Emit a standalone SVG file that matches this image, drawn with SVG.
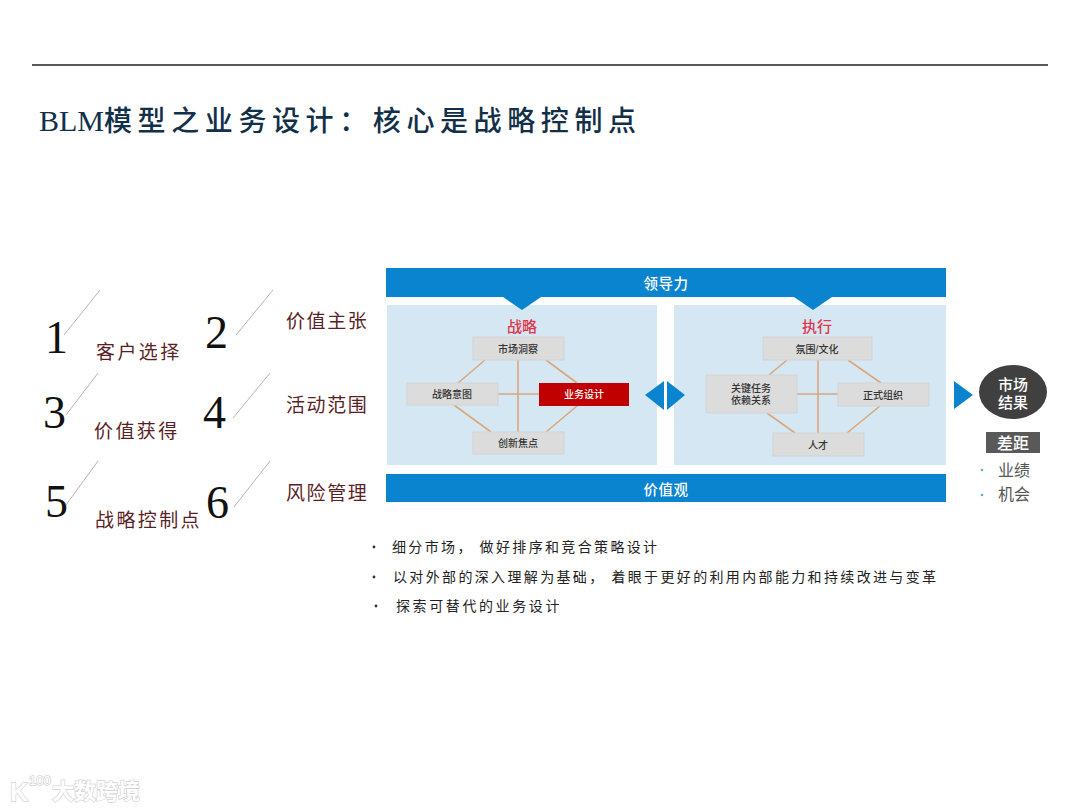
<svg xmlns="http://www.w3.org/2000/svg" width="1080" height="810" viewBox="0 0 1080 810">
<style>
text{font-family:"Liberation Serif","Noto Sans CJK SC",serif}
.s{font-family:"Liberation Sans","Noto Sans CJK SC",sans-serif}
.num{font-size:46px;fill:#111}
.lab{font-size:19px;fill:#5b1f26;letter-spacing:2.4px;dominant-baseline:central}
.lab2{letter-spacing:1.6px}
.slash{stroke:#b5b5b5;stroke-width:1;fill:none}
.ban{fill:#0a84cf}
.panel{fill:#d5e7f2}
.box{fill:#dcdcdc;stroke:#cfd3d6;stroke-width:1}
.lnk{stroke:#dba77c;stroke-width:1.6;fill:none}
.bt{font-size:14.5px;font-weight:500;fill:#fff;text-anchor:middle;dominant-baseline:central;letter-spacing:.5px}
.nt{font-size:10px;font-weight:500;fill:#333;text-anchor:middle;dominant-baseline:central}
.hd{font-size:15px;fill:#e0364c;text-anchor:middle;dominant-baseline:central;font-weight:500}
.bul{font-size:14px;fill:#222;letter-spacing:2.35px;dominant-baseline:central}
.r{font-size:16px;fill:#555;text-anchor:middle;dominant-baseline:central}
.w{fill:#fff;text-anchor:middle;dominant-baseline:central;font-weight:500}
</style>
<rect width="1080" height="810" fill="#fff"/>
<line x1="32" y1="65" x2="1048" y2="65" stroke="#222" stroke-width="1.3"/>
<text id="title" x="39" y="131" font-size="30" fill="#123049" font-weight="500"><tspan>BLM</tspan><tspan font-size="28" letter-spacing="5.6">模型之业务设计：核心是战略控制点</tspan></text>

<g id="items">
<g id="item1"><text class="num" x="45" y="353">1</text><line class="slash" x1="64" y1="335" x2="100" y2="290"/><text class="lab" x="96" y="352">客户选择</text></g>
<g id="item2"><text class="num" x="205" y="348">2</text><line class="slash" x1="236" y1="335" x2="273" y2="290"/><text class="lab lab2" x="286" y="321">价值主张</text></g>
<g id="item3"><text class="num" x="43" y="428">3</text><line class="slash" x1="66" y1="415" x2="98" y2="373"/><text class="lab" x="94" y="431">价值获得</text></g>
<g id="item4"><text class="num" x="203" y="428">4</text><line class="slash" x1="233" y1="418" x2="270" y2="373"/><text class="lab lab2" x="286" y="405">活动范围</text></g>
<g id="item5"><text class="num" x="45" y="517">5</text><line class="slash" x1="66" y1="505" x2="98" y2="461"/><text class="lab" x="95" y="520">战略控制点</text></g>
<g id="item6"><text class="num" x="206" y="518">6</text><line class="slash" x1="234" y1="507" x2="270" y2="461"/><text class="lab lab2" x="286" y="493">风险管理</text></g>
</g>

<g id="frame">
<rect class="panel" x="387" y="305" width="270" height="160"/>
<rect class="panel" x="674" y="305" width="272" height="160"/>
<rect class="ban" x="386" y="268" width="560" height="29"/>
<rect class="ban" x="386" y="474" width="560" height="28"/>
<polygon class="ban" points="503,297 541,297 522,310"/>
<polygon class="ban" points="794,297 832,297 813,310"/>
<text class="s bt" x="666" y="284">领导力</text>
<text class="s bt" x="666" y="490">价值观</text>
<text class="s hd" x="522" y="326">战略</text>
<text class="s hd" x="817" y="326">执行</text>
<polygon class="ban" points="645,395 664,381 664,410"/>
<polygon class="ban" points="667,381 685,395 667,410"/>
<polygon class="ban" points="954,381 973,395 954,409"/>
</g>

<g id="connectors">
<path class="lnk" d="M518 360V432M498 394H539M485 360L458 383M546 360L577 383M454 405L491 432M577 406L546 432"/>
<path class="lnk" d="M818 360V433M797 394H838M787 360L769 375M848 360L881 383M767 413L795 433M880 406L847 433"/>
</g>

<g id="n-market"><rect class="box" x="473" y="337" width="91" height="23"/><text class="s nt" x="518" y="349">市场洞察</text></g>
<g id="n-intent"><rect class="box" x="407" y="383" width="91" height="22"/><text class="s nt" x="452" y="394">战略意图</text></g>
<g id="n-design"><rect x="539" y="383" width="90" height="23" fill="#c00000"/><text class="s nt" x="584" y="394" style="fill:#fff">业务设计</text></g>
<g id="n-focus"><rect class="box" x="473" y="432" width="91" height="22"/><text class="s nt" x="518" y="443">创新焦点</text></g>
<g id="n-culture"><rect class="box" x="763" y="337" width="109" height="23"/><text class="s nt" x="817" y="349">氛围/文化</text></g>
<g id="n-task"><rect class="box" x="706" y="375" width="91" height="38"/><text class="s nt" x="751" y="388">关键任务</text><text class="s nt" x="751" y="400">依赖关系</text></g>
<g id="n-org"><rect class="box" x="838" y="383" width="91" height="23"/><text class="s nt" x="883" y="395">正式组织</text></g>
<g id="n-talent"><rect class="box" x="773" y="433" width="91" height="23"/><text class="s nt" x="818" y="445">人才</text></g>

<g id="n-result"><ellipse cx="1013" cy="392" rx="34" ry="27" fill="#404040"/><text class="s w" x="1013" y="384" font-size="15">市场</text><text class="s w" x="1013" y="402" font-size="15">结果</text></g>
<g id="n-gap"><rect x="986" y="432" width="54" height="21" fill="#595959"/><text class="s w" x="1013" y="443" font-size="16">差距</text>
<text class="s r" x="1014" y="470">业绩</text><text class="s r" x="1014" y="494">机会</text>
<circle cx="982" cy="470" r="1.3" fill="#5fa8d3"/><circle cx="982" cy="495" r="1.3" fill="#5fa8d3"/></g>

<g id="bullets">
<circle cx="374" cy="547" r="1.4" fill="#333"/><text class="bul" x="392" y="547">细分市场， 做好排序和竞合策略设计</text>
<circle cx="374" cy="577" r="1.4" fill="#333"/><text class="bul" x="393" y="577">以对外部的深入理解为基础， 着眼于更好的利用内部能力和持续改进与变革</text>
<circle cx="376" cy="606" r="1.4" fill="#333"/><text class="bul" x="396" y="606" style="letter-spacing:2.6px">探索可替代的业务设计</text>
</g>

<g id="watermark" stroke="#d4d4d4" stroke-width="1.4" paint-order="stroke" fill="#fff">
<text class="s" x="10" y="801" font-size="25" font-weight="700">K</text>
<text class="s" x="29" y="785" font-size="13">100</text>
<text class="s" x="52" y="799" font-size="22" font-weight="700">大数跨境</text>
</g>
</svg>
